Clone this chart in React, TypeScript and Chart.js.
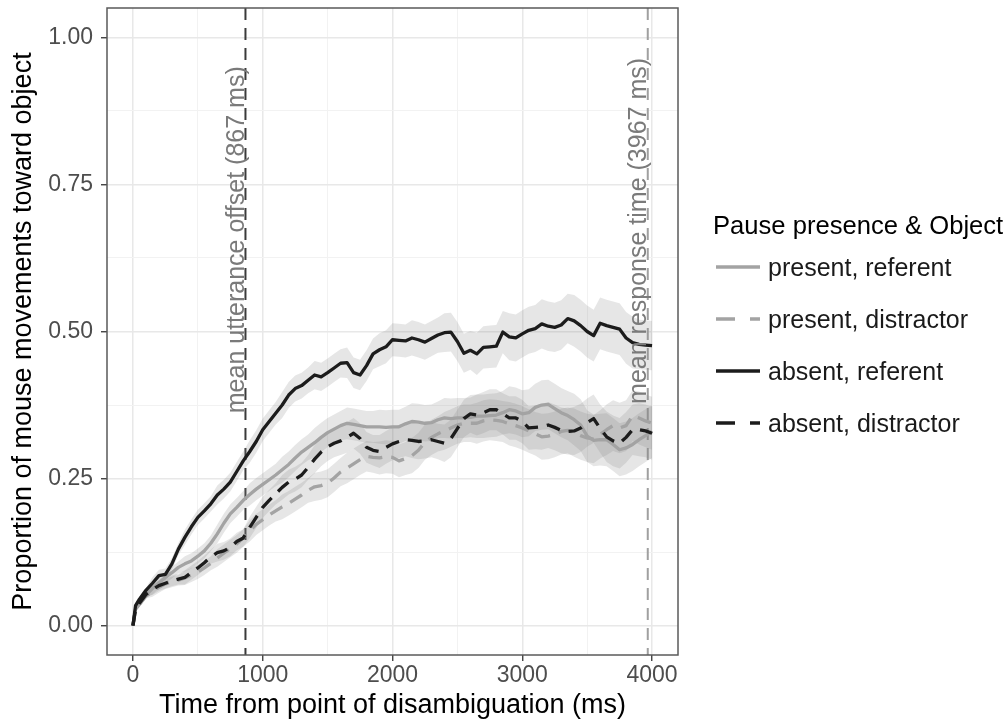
import React, { useEffect, useRef } from 'react';
import { Chart, registerables } from 'chart.js';

Chart.register(...registerables);

const FONT = '"Liberation Sans", Arial, Helvetica, sans-serif';

// time grid (ms)
const TIMES = [
  0, 20, 50, 100, 150, 200, 250, 300, 350, 400,
  450, 500, 550, 600, 650, 700, 750, 800, 850, 900,
  950, 1000, 1050, 1100, 1150, 1200, 1250, 1300, 1350, 1400,
  1450, 1500, 1550, 1600, 1650, 1700, 1750, 1800, 1850, 1900,
  1950, 2000, 2050, 2100, 2150, 2200, 2250, 2300, 2350, 2400,
  2450, 2500, 2550, 2600, 2650, 2700, 2750, 2800, 2850, 2900,
  2950, 3000, 3050, 3100, 3150, 3200, 3250, 3300, 3350, 3400,
  3450, 3500, 3550, 3600, 3650, 3700, 3750, 3800, 3850, 3900,
  3950, 4000,
];

const PRESENT_REFERENT = [
  0, 0.028, 0.036, 0.052, 0.063, 0.073, 0.082, 0.090, 0.099, 0.105,
  0.110, 0.118, 0.127, 0.140, 0.156, 0.174, 0.190, 0.201, 0.213, 0.223,
  0.232, 0.240, 0.248, 0.256, 0.265, 0.274, 0.285, 0.295, 0.303, 0.311,
  0.320, 0.328, 0.334, 0.340, 0.344, 0.342, 0.340, 0.338, 0.338, 0.338,
  0.337, 0.338, 0.338, 0.343, 0.347, 0.346, 0.344, 0.345, 0.350, 0.353,
  0.352, 0.353, 0.353, 0.354, 0.356, 0.356, 0.357, 0.358, 0.362, 0.367,
  0.365, 0.360, 0.362, 0.371, 0.375, 0.376, 0.369, 0.362, 0.357, 0.350,
  0.341, 0.322, 0.315, 0.316, 0.316, 0.308, 0.299, 0.302, 0.308, 0.316,
  0.323, 0.330,
];

const PRESENT_DISTRACTOR = [
  0, 0.027, 0.036, 0.050, 0.058, 0.065, 0.071, 0.074, 0.077, 0.081,
  0.086, 0.091, 0.098, 0.106, 0.115, 0.123, 0.131, 0.139, 0.149, 0.161,
  0.172, 0.180, 0.188, 0.195, 0.202, 0.208, 0.215, 0.222, 0.230, 0.236,
  0.238, 0.242, 0.251, 0.261, 0.268, 0.275, 0.282, 0.288, 0.286, 0.285,
  0.287, 0.286, 0.280, 0.284, 0.289, 0.298, 0.312, 0.320, 0.326, 0.331,
  0.336, 0.341, 0.344, 0.344, 0.344, 0.348, 0.350, 0.349, 0.347, 0.343,
  0.340, 0.336, 0.331, 0.326, 0.321, 0.322, 0.325, 0.330, 0.332, 0.328,
  0.323, 0.319, 0.317, 0.325, 0.333, 0.340, 0.336, 0.340, 0.357, 0.353,
  0.348, 0.344,
];

const ABSENT_REFERENT = [
  0, 0.034, 0.045, 0.060, 0.072, 0.085, 0.087, 0.105, 0.130, 0.150,
  0.168, 0.184, 0.195, 0.207, 0.222, 0.232, 0.244, 0.262, 0.280, 0.296,
  0.313, 0.333, 0.347, 0.361, 0.375, 0.392, 0.403, 0.408, 0.417, 0.426,
  0.423, 0.430, 0.438, 0.446, 0.447, 0.430, 0.426, 0.442, 0.462, 0.469,
  0.474, 0.486, 0.485, 0.484, 0.489, 0.486, 0.482, 0.488, 0.494, 0.498,
  0.499, 0.483, 0.463, 0.468, 0.462, 0.473, 0.474, 0.475, 0.499, 0.491,
  0.489, 0.496, 0.502, 0.505, 0.513, 0.509, 0.507, 0.511, 0.522, 0.518,
  0.510, 0.500, 0.493, 0.514, 0.510, 0.507, 0.504, 0.489, 0.481, 0.478,
  0.477, 0.476,
];

const ABSENT_DISTRACTOR = [
  0, 0.028, 0.038, 0.053, 0.061, 0.068, 0.072, 0.076, 0.079, 0.082,
  0.090, 0.098, 0.107, 0.117, 0.124, 0.127, 0.133, 0.143, 0.149, 0.167,
  0.184, 0.201, 0.213, 0.224, 0.235, 0.244, 0.249, 0.256, 0.269, 0.283,
  0.295, 0.304, 0.310, 0.314, 0.320, 0.327, 0.318, 0.303, 0.298, 0.296,
  0.303, 0.309, 0.313, 0.316, 0.315, 0.313, 0.314, 0.316, 0.313, 0.310,
  0.318, 0.335, 0.352, 0.360, 0.358, 0.362, 0.367, 0.367, 0.360, 0.353,
  0.353, 0.347, 0.336, 0.337, 0.338, 0.341, 0.337, 0.332, 0.330, 0.331,
  0.336, 0.345, 0.352, 0.335, 0.321, 0.314, 0.310, 0.320, 0.333, 0.333,
  0.331, 0.327,
];

// confidence-band half widths, every 250 ms (0..4000)
const CI_STEP = 250;
const CI_PRESENT_REFERENT = [0.004, 0.010, 0.013, 0.016, 0.019, 0.022, 0.025, 0.027, 0.029, 0.031, 0.034, 0.037, 0.040, 0.042, 0.044, 0.045, 0.045];
const CI_PRESENT_DISTRACTOR = [0.004, 0.009, 0.012, 0.015, 0.018, 0.021, 0.024, 0.026, 0.028, 0.030, 0.032, 0.035, 0.037, 0.039, 0.041, 0.043, 0.045];
const CI_ABSENT_REFERENT = [0.004, 0.010, 0.013, 0.016, 0.019, 0.022, 0.024, 0.026, 0.028, 0.030, 0.033, 0.036, 0.040, 0.042, 0.044, 0.044, 0.042];
const CI_ABSENT_DISTRACTOR = [0.004, 0.009, 0.012, 0.015, 0.018, 0.021, 0.024, 0.026, 0.028, 0.030, 0.032, 0.035, 0.037, 0.039, 0.041, 0.043, 0.045];

const SERIES_LABELS = ['present, referent', 'present, distractor', 'absent, referent', 'absent, distractor'];
const LEGEND_TITLE = 'Pause presence & Object';
const X_TITLE = 'Time from point of disambiguation (ms)';
const Y_TITLE = 'Proportion of mouse movements toward object';

const X_TICKS = [0, 500, 1000, 1500, 2000, 2500, 3000, 3500, 4000];
const Y_TICKS = [0, 0.125, 0.25, 0.375, 0.5, 0.625, 0.75, 0.875, 1];

const MARKER_TIMES = [867, 3967];
const MARKER_LABELS = ['mean utterance offset (867 ms)', 'mean response time (3967 ms)'];
const MARKER_LABEL_CENTER = [0.656, 0.671];

const GREY_LINE = '#a3a3a3';
const DARK_LINE = '#1c1c1c';
const BAND = 'rgba(128,128,128,0.2)';

type Series = { label: string; values: number[]; ci: number[]; color: string; dashed: boolean };

const SERIES: Series[] = [
  { label: SERIES_LABELS[0], values: PRESENT_REFERENT, ci: CI_PRESENT_REFERENT, color: GREY_LINE, dashed: false },
  { label: SERIES_LABELS[1], values: PRESENT_DISTRACTOR, ci: CI_PRESENT_DISTRACTOR, color: GREY_LINE, dashed: true },
  { label: SERIES_LABELS[2], values: ABSENT_REFERENT, ci: CI_ABSENT_REFERENT, color: DARK_LINE, dashed: false },
  { label: SERIES_LABELS[3], values: ABSENT_DISTRACTOR, ci: CI_ABSENT_DISTRACTOR, color: DARK_LINE, dashed: true },
];

const isMajorX = (v: number) => v % 1000 === 0;
const isMajorY = (v: number) => Math.abs(v * 4 - Math.round(v * 4)) < 1e-9;

const decorPlugin = {
  id: 'decor',
  beforeDatasetsDraw(chart: any) {
    const { ctx, chartArea, scales } = chart;
    ctx.save();
    MARKER_TIMES.forEach((t, i) => {
      const x = scales.x.getPixelForValue(t);
      ctx.beginPath();
      ctx.strokeStyle = i === 0 ? '#3a3a3a' : '#a0a0a0';
      ctx.lineWidth = 2;
      ctx.setLineDash([12, 8]);
      ctx.moveTo(x, chartArea.top);
      ctx.lineTo(x, chartArea.bottom);
      ctx.stroke();
    });
    ctx.restore();
  },
  afterDatasetsDraw(chart: any) {
    const { ctx, chartArea, scales } = chart;
    ctx.save();
    MARKER_TIMES.forEach((t, i) => {
      const x = scales.x.getPixelForValue(t);
      const y = scales.y.getPixelForValue(MARKER_LABEL_CENTER[i]);
      ctx.save();
      ctx.translate(x - 1.5, y);
      ctx.rotate(-Math.PI / 2);
      ctx.font = `25px ${FONT}`;
      ctx.fillStyle = '#7a7a7a';
      ctx.textAlign = 'center';
      ctx.textBaseline = 'alphabetic';
      ctx.fillText(MARKER_LABELS[i], 0, 0);
      ctx.restore();
    });
    ctx.strokeStyle = '#5a5a5a';
    ctx.lineWidth = 1.5;
    ctx.setLineDash([]);
    ctx.strokeRect(chartArea.left, chartArea.top, chartArea.right - chartArea.left, chartArea.bottom - chartArea.top);
    ctx.restore();
  },
  afterDraw(chart: any) {
    const { ctx } = chart;
    ctx.save();
    ctx.font = `25.6px ${FONT}`;
    ctx.fillStyle = '#000';
    ctx.textAlign = 'left';
    ctx.textBaseline = 'alphabetic';
    ctx.fillText(LEGEND_TITLE, 713, 234);
    SERIES.forEach((s, i) => {
      const y = 267 + i * 52;
      ctx.beginPath();
      ctx.strokeStyle = s.color;
      ctx.lineWidth = 3.5;
      ctx.lineCap = 'butt';
      ctx.setLineDash(s.dashed ? [19, 15] : []);
      ctx.moveTo(716, y);
      ctx.lineTo(760, y);
      ctx.stroke();
      ctx.setLineDash([]);
      ctx.font = `25px ${FONT}`;
      ctx.fillStyle = '#1a1a1a';
      ctx.textBaseline = 'middle';
      ctx.fillText(s.label, 768, y + 2);
    });
    ctx.restore();
  },
};

export default function App() {
  const canvasRef = useRef<HTMLCanvasElement | null>(null);

  useEffect(() => {
    if (!canvasRef.current) return;

    const lineSets = [3, 2, 1, 0].map((idx) => {
      const s = SERIES[idx];
      return {
        label: s.label,
        data: TIMES.map((t, i) => ({ x: t, y: s.values[i] })),
        borderColor: s.color,
        borderWidth: 3.3,
        borderDash: s.dashed ? [14, 9] : [],
        borderCapStyle: 'butt' as const,
        borderJoinStyle: 'round' as const,
        pointRadius: 0,
        fill: false,
        tension: 0,
        order: 0,
      };
    });

    const bandSets: any[] = [];
    SERIES.forEach((s) => {
      const hw = (t: number) => s.ci[Math.round(t / CI_STEP)];
      bandSets.push({
        label: s.label + ' upper',
        data: TIMES.map((t, i) => ({ x: t, y: s.values[i] + hw(t) })),
        borderWidth: 0,
        borderColor: 'rgba(0,0,0,0)',
        backgroundColor: BAND,
        pointRadius: 0,
        fill: '+1',
        tension: 0,
        order: 1,
      });
      bandSets.push({
        label: s.label + ' lower',
        data: TIMES.map((t, i) => ({ x: t, y: Math.max(0, s.values[i] - hw(t)) })),
        borderWidth: 0,
        borderColor: 'rgba(0,0,0,0)',
        backgroundColor: 'rgba(0,0,0,0)',
        pointRadius: 0,
        fill: false,
        tension: 0,
        order: 1,
      });
    });

    const chart = new Chart(canvasRef.current, {
      type: 'line',
      data: { datasets: [...lineSets, ...bandSets] as any },
      options: {
        responsive: false,
        animation: false,
        devicePixelRatio: 1,
        layout: { padding: { left: 0, top: 8, right: 330, bottom: 0 } },
        plugins: { legend: { display: false }, tooltip: { enabled: false } },
        scales: {
          x: {
            type: 'linear',
            min: -200,
            max: 4200,
            afterBuildTicks: (s: any) => {
              s.ticks = X_TICKS.map((v) => ({ value: v }));
            },
            afterFit: (s: any) => {
              s.height = 64;
              s.paddingLeft = 0;
              s.paddingRight = 0;
            },
            border: { display: false },
            grid: {
              color: (c: any) => (isMajorX(c.tick.value) ? '#e8e8e8' : '#f2f2f2'),
              lineWidth: (c: any) => (isMajorX(c.tick.value) ? 1.5 : 1),
              tickLength: 6,
              tickColor: (c: any) => (isMajorX(c.tick.value) ? '#333333' : 'rgba(0,0,0,0)'),
              tickWidth: 1.3,
            } as any,
            ticks: {
              autoSkip: false,
              maxRotation: 0,
              padding: 1,
              color: '#4d4d4d',
              font: { family: FONT, size: 23 },
              callback: (v: any) => (isMajorX(Number(v)) ? String(v) : ''),
            },
            title: {
              display: true,
              text: X_TITLE,
              color: '#000',
              font: { family: FONT, size: 27, lineHeight: 1 },
              padding: { top: 0, bottom: 0 },
            },
          },
          y: {
            type: 'linear',
            min: -0.05,
            max: 1.05,
            afterBuildTicks: (s: any) => {
              s.ticks = Y_TICKS.map((v) => ({ value: v }));
            },
            afterFit: (s: any) => {
              s.width = 107;
              s.paddingTop = 0;
              s.paddingBottom = 0;
            },
            border: { display: false },
            grid: {
              color: (c: any) => (isMajorY(c.tick.value) ? '#e8e8e8' : '#f2f2f2'),
              lineWidth: (c: any) => (isMajorY(c.tick.value) ? 1.5 : 1),
              tickLength: 6,
              tickColor: (c: any) => (isMajorY(c.tick.value) ? '#333333' : 'rgba(0,0,0,0)'),
              tickWidth: 1.3,
            } as any,
            ticks: {
              autoSkip: false,
              padding: 8,
              color: '#4d4d4d',
              font: { family: FONT, size: 23 },
              callback: (v: any) => (isMajorY(Number(v)) ? Number(v).toFixed(2) : ''),
            },
            title: {
              display: true,
              text: Y_TITLE,
              color: '#000',
              font: { family: FONT, size: 27, lineHeight: 1 },
              padding: { top: 10, bottom: 0 },
            },
          },
        },
      },
      plugins: [decorPlugin],
    });

    return () => chart.destroy();
  }, []);

  return (
    <div style={{ position: 'absolute', left: 0, top: 0, width: 1008, height: 719, background: '#fff' }}>
      <canvas ref={canvasRef} width={1008} height={719} style={{ display: 'block' }} />
    </div>
  );
}
